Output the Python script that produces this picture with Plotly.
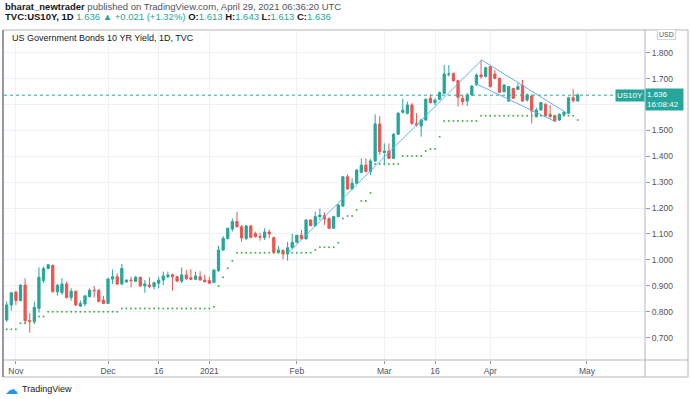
import plotly.graph_objects as go

# ---------------- data ----------------
OPEN = [0.768, 0.826, 0.876, 0.843, 0.903, 0.766, 0.761, 0.813, 0.920, 0.967,
        0.979, 0.877, 0.874, 0.907, 0.855, 0.879, 0.822, 0.830, 0.858, 0.883,
        0.883, 0.845, 0.832, 0.926, 0.935, 0.907, 0.915, 0.922, 0.917, 0.933,
        0.899, 0.903, 0.897, 0.910, 0.922, 0.935, 0.944, 0.935, 0.918, 0.942,
        0.931, 0.925, 0.935, 0.922, 0.920, 0.913, 0.958, 1.038, 1.083, 1.119,
        1.148, 1.128, 1.083, 1.131, 1.102, 1.090, 1.086, 1.108, 1.086, 1.029,
        1.036, 1.023, 1.047, 1.068, 1.095, 1.081, 1.154, 1.132, 1.167, 1.171,
        1.160, 1.122, 1.167, 1.208, 1.321, 1.274, 1.296, 1.338, 1.366, 1.341,
        1.382, 1.525, 1.415, 1.420, 1.392, 1.485, 1.570, 1.566, 1.598, 1.527,
        1.517, 1.540, 1.624, 1.607, 1.620, 1.643, 1.716, 1.720, 1.692, 1.624,
        1.613, 1.637, 1.676, 1.714, 1.708, 1.746, 1.718, 1.701, 1.649, 1.613,
        1.662, 1.658, 1.675, 1.617, 1.633, 1.553, 1.579, 1.601, 1.562, 1.557,
        1.540, 1.560, 1.566, 1.626, 1.613]
HIGH = [0.839, 0.877, 0.880, 0.905, 0.929, 0.794, 0.839, 0.971, 0.974, 0.984,
        0.981, 0.907, 0.929, 0.916, 0.890, 0.882, 0.843, 0.865, 0.890, 0.899,
        0.886, 0.861, 0.931, 0.963, 0.948, 0.984, 0.925, 0.935, 0.938, 0.935,
        0.922, 0.933, 0.916, 0.935, 0.955, 0.955, 0.944, 0.938, 0.971, 0.961,
        0.964, 0.955, 0.956, 0.942, 0.935, 0.964, 1.054, 1.092, 1.125, 1.160,
        1.186, 1.135, 1.135, 1.135, 1.109, 1.105, 1.122, 1.118, 1.090, 1.054,
        1.041, 1.070, 1.100, 1.096, 1.116, 1.157, 1.157, 1.186, 1.198, 1.183,
        1.164, 1.170, 1.215, 1.324, 1.330, 1.315, 1.350, 1.392, 1.392, 1.389,
        1.562, 1.555, 1.450, 1.450, 1.489, 1.572, 1.622, 1.611, 1.605, 1.566,
        1.545, 1.624, 1.639, 1.624, 1.650, 1.752, 1.752, 1.723, 1.695, 1.637,
        1.643, 1.675, 1.720, 1.772, 1.746, 1.746, 1.733, 1.704, 1.678, 1.671,
        1.665, 1.682, 1.695, 1.643, 1.639, 1.588, 1.611, 1.605, 1.598, 1.560,
        1.566, 1.575, 1.630, 1.659, 1.643]
LOW = [0.761, 0.804, 0.826, 0.840, 0.755, 0.719, 0.752, 0.796, 0.910, 0.963,
       0.875, 0.862, 0.865, 0.851, 0.843, 0.822, 0.817, 0.822, 0.855, 0.855,
       0.837, 0.830, 0.830, 0.907, 0.903, 0.903, 0.912, 0.894, 0.915, 0.897,
       0.873, 0.890, 0.886, 0.890, 0.903, 0.929, 0.881, 0.916, 0.910, 0.922,
       0.922, 0.922, 0.922, 0.913, 0.907, 0.910, 0.954, 1.035, 1.078, 1.110,
       1.125, 1.070, 1.077, 1.083, 1.086, 1.074, 1.077, 1.083, 1.025, 1.025,
       1.002, 0.997, 1.045, 1.066, 1.080, 1.080, 1.131, 1.128, 1.154, 1.135,
       1.119, 1.119, 1.164, 1.205, 1.270, 1.270, 1.293, 1.334, 1.338, 1.328,
       1.379, 1.405, 1.366, 1.389, 1.389, 1.482, 1.566, 1.562, 1.522, 1.514,
       1.476, 1.537, 1.604, 1.598, 1.617, 1.640, 1.708, 1.688, 1.592, 1.598,
       1.594, 1.633, 1.672, 1.700, 1.704, 1.666, 1.698, 1.643, 1.647, 1.611,
       1.621, 1.656, 1.611, 1.611, 1.527, 1.549, 1.575, 1.553, 1.547, 1.534,
       1.536, 1.557, 1.563, 1.607, 1.613]
CLOSE = [0.826, 0.873, 0.843, 0.903, 0.765, 0.762, 0.817, 0.933, 0.967, 0.981,
         0.877, 0.902, 0.907, 0.855, 0.879, 0.826, 0.832, 0.861, 0.883, 0.881,
         0.839, 0.832, 0.926, 0.935, 0.907, 0.967, 0.922, 0.920, 0.933, 0.899,
         0.907, 0.897, 0.912, 0.922, 0.938, 0.942, 0.935, 0.918, 0.942, 0.928,
         0.925, 0.938, 0.922, 0.916, 0.910, 0.961, 1.038, 1.083, 1.122, 1.148,
         1.128, 1.085, 1.131, 1.087, 1.090, 1.088, 1.108, 1.100, 1.029, 1.038,
         1.023, 1.047, 1.068, 1.095, 1.081, 1.154, 1.132, 1.167, 1.173, 1.158,
         1.122, 1.167, 1.212, 1.321, 1.274, 1.296, 1.347, 1.366, 1.341, 1.382,
         1.525, 1.418, 1.420, 1.392, 1.485, 1.566, 1.578, 1.598, 1.527, 1.521,
         1.540, 1.620, 1.607, 1.617, 1.646, 1.718, 1.718, 1.692, 1.628, 1.611,
         1.637, 1.671, 1.714, 1.707, 1.742, 1.669, 1.701, 1.647, 1.675, 1.669,
         1.624, 1.669, 1.613, 1.637, 1.575, 1.579, 1.607, 1.557, 1.553, 1.536,
         1.562, 1.570, 1.626, 1.615, 1.636]
STOP_DOTS = [0.732, 0.732, 0.732, 0.755, 0.755, 0.762, 0.762, 0.781, 0.781, 0.800,
             0.800, 0.800, 0.800, 0.800, 0.800, 0.800, 0.800, 0.800, 0.800, 0.800,
             0.800, 0.800, 0.800, 0.800, 0.800, 0.812, 0.812, 0.812, 0.812, 0.812,
             0.812, 0.812, 0.812, 0.812, 0.812, 0.812, 0.812, 0.812, 0.812, 0.812,
             0.812, 0.812, 0.812, 0.812, 0.812, 0.819, 0.899, 0.933, 0.968, 0.996,
             1.028, 1.028, 1.028, 1.028, 1.028, 1.028, 1.028, 1.028, 1.028, 1.028,
             1.028, 1.028, 1.028, 1.028, 1.028, 1.028, 1.028, 1.038, 1.049, 1.049,
             1.049, 1.049, 1.066, 1.160, 1.169, 1.169, 1.193, 1.227, 1.227, 1.258,
             1.370, 1.370, 1.370, 1.370, 1.370, 1.370, 1.401, 1.401, 1.401, 1.401,
             1.401, 1.420, 1.428, 1.428, 1.475, 1.536, 1.536, 1.536, 1.536, 1.536,
             1.536, 1.536, 1.536, 1.557, 1.557, 1.557, 1.557, 1.557, 1.557, 1.557,
             1.557, 1.557, 1.557, 1.557, 1.557, 1.557, 1.557, 1.557, 1.557, 1.557,
             1.557, 1.557, 1.557, 1.557, 1.540]

# x-axis tick labels (bar index of the first bar of each labelled period)
TICK_POS = [2, 22, 33, 44, 63, 82, 93, 105, 126]
TICK_TEXT = ["Nov", "Dec", "16", "2021", "Feb", "Mar", "16", "Apr", "May"]
Y_TICKS = [0.7, 0.8, 0.9, 1.0, 1.1, 1.2, 1.3, 1.4, 1.5, 1.6, 1.7, 1.8]
# 1.600 is hidden behind the last-price label in the reference
Y_TICK_TEXT = ["0.700", "0.800", "0.900", "1.000", "1.100", "1.200", "1.300",
               "1.400", "1.500", "", "1.700", "1.800"]

# hand-drawn trend lines (bar index, price)
TREND_UP_X = [61.15, 103.15]
TREND_UP_Y = [1.027, 1.772]
CH_UPPER_X = [103.15, 121.6]
CH_UPPER_Y = [1.772, 1.567]
CH_LOWER_X = [101.7, 119.1]
CH_LOWER_Y = [1.682, 1.534]

X = list(range(len(OPEN)))

UP = "#26a69a"
DOWN = "#ef5350"
FONT = "Liberation Sans"

fig = go.Figure()
fig.add_trace(go.Candlestick(
    x=X, open=OPEN, high=HIGH, low=LOW, close=CLOSE,
    increasing=dict(line=dict(color=UP, width=1), fillcolor=UP),
    decreasing=dict(line=dict(color=DOWN, width=1), fillcolor=DOWN),
    whiskerwidth=0, hoverinfo="skip"))
fig.add_trace(go.Scatter(x=X, y=STOP_DOTS, mode="markers",
                         marker=dict(size=2, color="#4caf50"), hoverinfo="skip"))
for xs, ys in [(TREND_UP_X, TREND_UP_Y), (CH_UPPER_X, CH_UPPER_Y), (CH_LOWER_X, CH_LOWER_Y)]:
    fig.add_trace(go.Scatter(x=xs, y=ys, mode="lines",
                             line=dict(color="#64aef5", width=1), hoverinfo="skip"))

last = CLOSE[-1]
frame = "#b2b5be"
x_right = (688 - 4) / 641
y_bot = (360 - 377) / 330

shapes = [
    dict(type="line", xref="paper", yref="y", x0=0, x1=1, y0=last, y1=last,
         line=dict(color=UP, width=1, dash="dot")),
    dict(type="rect", xref="paper", yref="paper", x0=-0.0016, x1=x_right, y0=y_bot, y1=1,
         line=dict(color=frame, width=1)),
    dict(type="line", xref="paper", yref="paper", x0=1, x1=1, y0=y_bot, y1=1,
         line=dict(color=frame, width=1)),
    dict(type="line", xref="paper", yref="paper", x0=-0.0016, x1=x_right, y0=0, y1=0,
         line=dict(color=frame, width=1)),
    dict(type="line", xref="paper", yref="paper", x0=-0.0016, x1=-0.0016, y0=y_bot, y1=1,
         line=dict(color="#9598a1", width=2)),
]

annotations = [
    dict(xref="paper", yref="paper", x=-0.0016, y=1.0697, xanchor="left", yanchor="middle",
         showarrow=False, font=dict(family=FONT, size=9.5, color="#50535e"),
         text="<b><span style='color:#131722'>bharat_newtrader</span></b> published on TradingView.com, April 29, 2021 06:36:20 UTC"),
    dict(xref="paper", yref="paper", x=-0.0016, y=1.0394, xanchor="left", yanchor="middle",
         showarrow=False, font=dict(family=FONT, size=9.5, color="#131722"),
         text=("<b>TVC:US10Y, 1D</b> <span style='color:%s'>1.636 ▲ +0.021 (+1.32%%)</span> "
               "<b>O:</b><span style='color:%s'>1.613</span> <b>H:</b><span style='color:%s'>1.643</span> "
               "<b>L:</b><span style='color:%s'>1.613</span> <b>C:</b><span style='color:%s'>1.636</span>")
         % (UP, UP, UP, UP, UP)),
    dict(xref="paper", yref="paper", x=0.0094, y=0.976, xanchor="left", yanchor="middle",
         showarrow=False, font=dict(family=FONT, size=9, color="#131722"),
         text="US Government Bonds 10 YR Yield, 1D, TVC"),
    dict(xref="paper", yref="y", x=1, y=last, xanchor="right", yanchor="middle",
         showarrow=False, font=dict(family=FONT, size=8, color="white"),
         text="US10Y", bgcolor=UP, borderpad=1),
    dict(xref="paper", yref="y", x=1, y=last, xanchor="left", yanchor="middle", yshift=-4,
         showarrow=False, font=dict(family=FONT, size=8, color="white"), align="left",
         text="1.636<br>16:08:42", bgcolor=UP, borderpad=1, width=35),
    dict(xref="paper", yref="paper", x=(666 - 4) / 641, y=(360 - 35) / 330, xanchor="center",
         yanchor="middle", showarrow=False, font=dict(family=FONT, size=7, color="#555"),
         text="USD", bgcolor="white", bordercolor="#d1d4dc", borderwidth=1, borderpad=1),
    dict(xref="paper", yref="paper", x=-0.0016, y=(360 - 389) / 330, xanchor="left",
         yanchor="middle", showarrow=False, font=dict(family="DejaVu Sans", size=13, color="#2196f3"),
         text="☁"),
    dict(xref="paper", yref="paper", x=(20 - 4) / 641, y=(360 - 389) / 330, xanchor="left",
         yanchor="middle", showarrow=False, font=dict(family=FONT, size=9, color="#131722"),
         text="TradingView"),
]

fig.update_layout(
    width=690, height=399,
    margin=dict(l=4, r=45, t=30, b=39),
    paper_bgcolor="white", plot_bgcolor="white",
    showlegend=False, shapes=shapes, annotations=annotations,
    font=dict(family=FONT, size=9, color="#50535e"),
)
fig.update_xaxes(
    range=[-0.586, 138.6], rangeslider_visible=False,
    tickmode="array", tickvals=TICK_POS, ticktext=TICK_TEXT,
    showgrid=True, gridcolor="#eef1f6", gridwidth=1, zeroline=False, showline=False,
    ticks="outside", ticklen=3, tickcolor="#9598a1",
    tickfont=dict(family=FONT, size=8.5, color="#50535e"), fixedrange=True,
)
fig.update_yaxes(
    side="right", range=[0.6135, 1.8876],
    tickmode="array", tickvals=Y_TICKS, ticktext=Y_TICK_TEXT,
    showgrid=True, gridcolor="#eef1f6", gridwidth=1, zeroline=False, showline=False,
    ticks="outside", ticklen=4, tickcolor="#9598a1",
    tickfont=dict(family=FONT, size=8.5, color="#50535e"), fixedrange=True,
)

fig.write_html("out.html", config={"displayModeBar": False},
               post_script="document.body.style.margin='0';document.body.style.padding='0';")
